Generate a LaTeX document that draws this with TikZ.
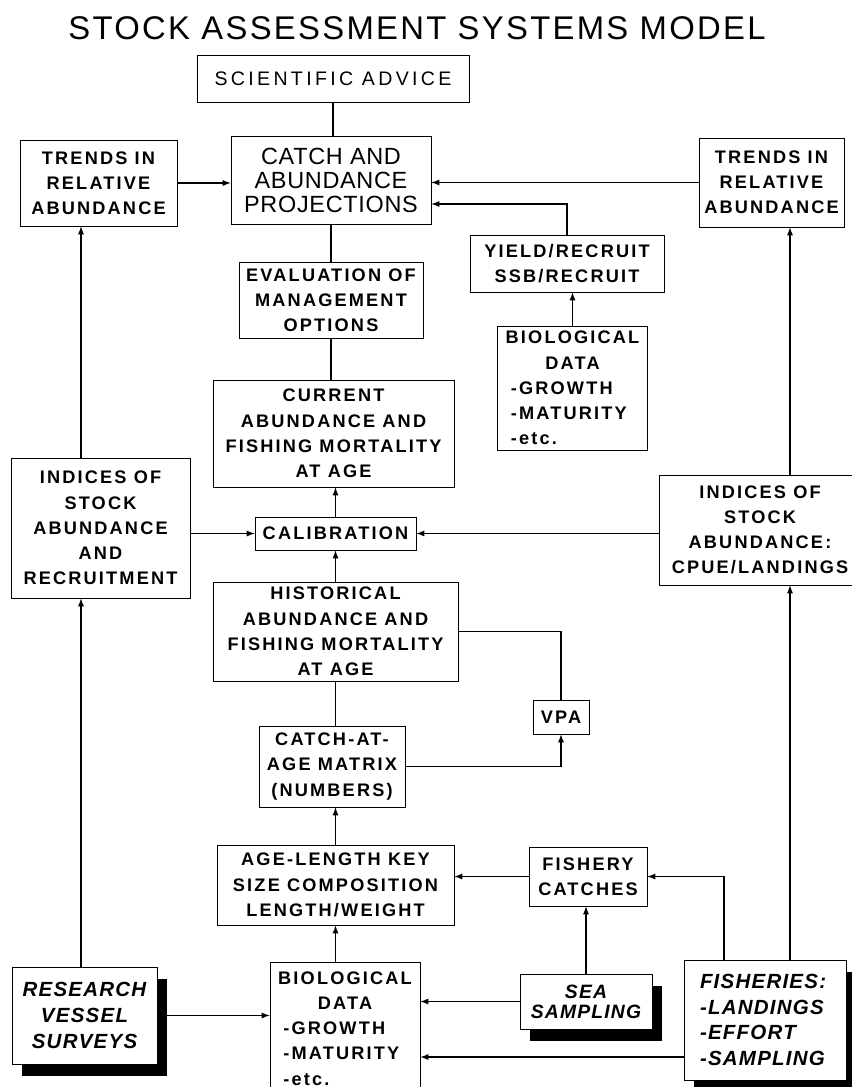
\documentclass[tikz,border=0pt]{standalone}
\usepackage{fontspec}
\setmainfont{Liberation Sans}
\newfontfamily\titlefont[LetterSpace=7]{Liberation Sans}
\newfontfamily\advfont[LetterSpace=17]{Liberation Sans}
\newfontfamily\projfont[LetterSpace=3]{Liberation Sans}
\newfontfamily\boxfont[LetterSpace=12]{Liberation Sans}
\newfontfamily\shadowfont[LetterSpace=6]{Liberation Sans}
\usetikzlibrary{calc}
\usetikzlibrary{shadows}
\usetikzlibrary{arrows.meta}
\tikzset{>=latex}
\newcommand{\ctrline}[1]{\makebox[\hsize]{#1}}

\begin{document}
\begin{tikzpicture}
                [x=0.03cm,y=-0.03cm,
                 every node/.style={draw,line width=0.8pt,fill=white,align=center,inner sep=0pt,
                   font=\boxfont\bfseries\fontsize{15.5}{21.5}\selectfont},
                 biocard/.style={align=left,text width=3.7cm,inner xsep=0.4cm},
                 shadowcard/.style={drop shadow={shadow xshift=0.3cm,shadow yshift=-0.36cm,fill=black,opacity=1},
                   font=\shadowfont\bfseries\itshape\fontsize{17.5}{22}\selectfont},
                 flow/.style={line width=1.3pt}]
                \useasboundingbox (0,0) rectangle (852,1087);
                \fill[white] (0,0) rectangle (852,1087);

                \node[draw=none,fill=none,anchor=base,font=\titlefont\fontsize{28}{28}\selectfont] (title) at (417,39) {STOCK ASSESSMENT SYSTEMS MODEL};

                \node[minimum width=8.16cm,minimum height=1.41cm,font=\advfont\fontsize{16.7}{20}\selectfont] (adv) at (333,78.5) {SCIENTIFIC ADVICE};
                \node[minimum width=6cm,minimum height=2.64cm,font=\projfont\fontsize{20}{20.5}\selectfont] (proj) at (331,180) {CATCH AND\\ABUNDANCE\\PROJECTIONS};
                \node[minimum width=4.71cm,minimum height=2.58cm] (trendL) at (98.5,183) {TRENDS IN\\RELATIVE\\ABUNDANCE};
                \node[minimum width=4.35cm,minimum height=2.67cm] (trendR) at (771.5,182.5) {TRENDS IN\\RELATIVE\\ABUNDANCE};
                \node[minimum width=5.82cm,minimum height=1.71cm] (yield) at (567,263.5) {YIELD/RECRUIT\\SSB/RECRUIT};
                \node[minimum width=5.52cm,minimum height=2.28cm] (evalu) at (331,300) {EVALUATION OF\\MANAGEMENT\\OPTIONS};
                \node[biocard,minimum height=3.72cm] (bioA) at (572.5,388) {\ctrline{BIOLOGICAL}\\\ctrline{DATA}\\-GROWTH\\-MATURITY\\-etc.};
                \node[minimum width=7.23cm,minimum height=3.21cm] (curr) at (333.5,433.5) {CURRENT\\ABUNDANCE AND\\FISHING MORTALITY\\AT AGE};
                \node[minimum width=5.37cm,minimum height=4.2cm] (indL) at (100.5,528) {INDICES OF\\STOCK\\ABUNDANCE\\AND\\RECRUITMENT};
                \node[minimum width=6.06cm,minimum height=3.3cm] (indR) at (760,530) {INDICES OF\\STOCK\\ABUNDANCE:\\CPUE/LANDINGS};
                \node[minimum width=4.83cm,minimum height=0.99cm] (calib) at (335.5,533.5) {CALIBRATION};
                \node[minimum width=7.35cm,minimum height=2.97cm] (hist) at (335.5,631.5) {HISTORICAL\\ABUNDANCE AND\\FISHING MORTALITY\\AT AGE};
                \node[minimum width=1.68cm,minimum height=1.02cm] (vpa) at (561,717) {VPA};
                \node[minimum width=4.38cm,minimum height=2.43cm] (caa) at (332,766.5) {CATCH-AT-\\AGE MATRIX\\(NUMBERS)};
                \node[minimum width=7.11cm,minimum height=2.4cm] (alk) at (335.5,885) {AGE-LENGTH KEY\\SIZE COMPOSITION\\LENGTH/WEIGHT};
                \node[minimum width=3.54cm,minimum height=1.77cm] (fcatch) at (588,876.5) {FISHERY\\CATCHES};
                \node[shadowcard,minimum width=4.35cm,minimum height=2.91cm] (rv) at (84.5,1015.5) {RESEARCH\\VESSEL\\SURVEYS};
                \node[biocard,minimum height=3.99cm] (bioB) at (345,1028.5) {\ctrline{BIOLOGICAL}\\\ctrline{DATA}\\-GROWTH\\-MATURITY\\-etc.};
                \node[shadowcard,minimum width=3.96cm,minimum height=1.65cm,
                      font=\shadowfont\bfseries\itshape\fontsize{16.5}{17}\selectfont] (sea) at (586,1001.5) {SEA\\SAMPLING};
                \node[shadowcard,align=left,text width=3.9cm,inner xsep=0.48cm,minimum height=3.6cm] (fish) at (765,1020) {FISHERIES:\\-LANDINGS\\-EFFORT\\-SAMPLING};

                \coordinate (lcol) at (81,0);
                \coordinate (rcol) at (790,0);
                \coordinate (fcol) at (724,0);
                \coordinate (yl) at ([yshift=-0.72cm]proj.east);
                \coordinate (fl) at ([yshift=-1.11cm]fish.west);

                % top of the chart
                \draw[flow] (adv.south) -- (adv.south |- proj.north);
                \draw[flow,->] (trendL.east) -- (trendL.east -| proj.west);
                \draw[flow,->] (trendR.west) -- (trendR.west -| proj.east);
                \draw[flow,->] (yield.north) |- (yl);
                \draw[flow] (proj.south) -- (proj.south |- evalu.north);
                \draw[flow,->] (bioA.north) -- (bioA.north |- yield.south);
                \draw[flow] (evalu.south) -- (evalu.south |- curr.north);

                % calibration
                \draw[flow,->] (lcol |- indL.north) -- (lcol |- trendL.south);
                \draw[flow,->] (rcol |- indR.north) -- (rcol |- trendR.south);
                \draw[flow,->] (indL.east |- calib) -- (calib.west);
                \draw[flow,->] (indR.west |- calib) -- (calib.east);
                \draw[flow,->] (calib.north) -- (calib.north |- curr.south);
                \draw[flow,->] (hist.north) -- (hist.north |- calib.south);

                % vpa
                \draw[flow] (hist.east) -| (vpa.north);
                \draw[flow] (hist.south) -- (hist.south |- caa.north);
                \draw[flow,->] (caa.east) -| (vpa.south);
                \draw[flow,->] (alk.north) -- (alk.north |- caa.south);

                % data sources
                \draw[flow,->] (alk.south |- bioB.north) -- (alk.south);
                \draw[flow,->] (fcatch.west) -- (fcatch.west -| alk.east);
                \draw[flow,->] (fcol |- fish.north) |- (fcatch.east);
                \draw[flow,->] (sea.north) -- (sea.north |- fcatch.south);
                \draw[flow,->] (sea.west) -- (sea.west -| bioB.east);
                \draw[flow,->] (fl) -- (fl -| bioB.east);
                \draw[flow,->] (rv.east) -- (rv.east -| bioB.west);
                \draw[flow,->] (lcol |- rv.north) -- (lcol |- indL.south);
                \draw[flow,->] (rcol |- fish.north) -- (rcol |- indR.south);
            \end{tikzpicture}
\end{document}
